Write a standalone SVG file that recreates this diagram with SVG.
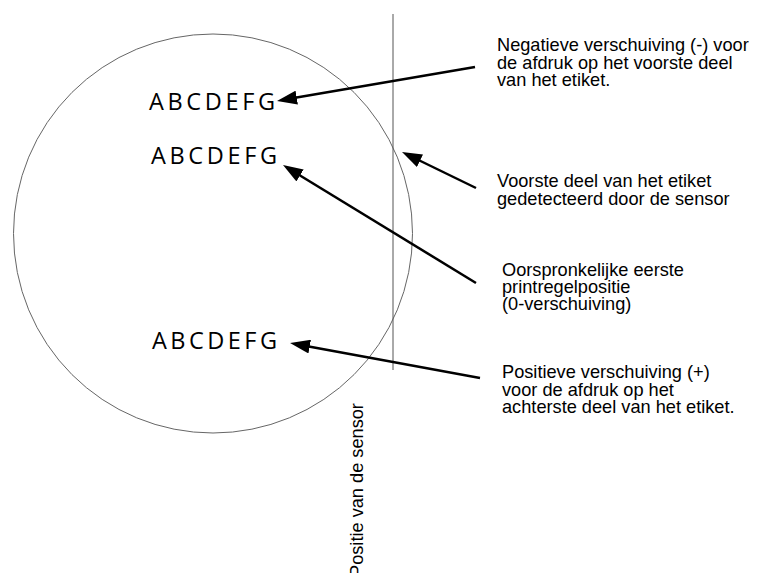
<svg xmlns="http://www.w3.org/2000/svg" width="758" height="573" viewBox="0 0 758 573">
<style>
.lbl{font-family:"Liberation Sans",Arial,sans-serif;font-size:18.2px;fill:#000}
.abc{font-family:"Open Sans","Noto Sans",sans-serif;font-size:23.5px;fill:#000}
.conn{stroke:#000;stroke-width:2.5;fill:none;marker-end:url(#ah)}
</style>
<defs>
<marker id="ah" viewBox="0 0 20 14" refX="12" refY="7" markerWidth="20" markerHeight="14" markerUnits="userSpaceOnUse" orient="auto">
<path d="M0,0 L20,7 L0,14 z" fill="#000"/>
</marker>
</defs>
<rect width="758" height="573" fill="#fff"/>
<g id="label-circle">
<circle cx="213" cy="233.5" r="199.5" fill="none" stroke="#666" stroke-width="1"/>
</g>
<g id="sensor-line">
<line x1="393" y1="14" x2="393" y2="370" stroke="#555" stroke-width="1"/>
<text class="lbl" transform="translate(363,577) rotate(-90)">Positie van de sensor</text>
</g>
<g id="print-neg">
<text class="abc" x="149" y="109.5" textLength="126" lengthAdjust="spacing">ABCDEFG</text>
</g>
<g id="print-zero">
<text class="abc" x="151" y="164" textLength="126" lengthAdjust="spacing">ABCDEFG</text>
</g>
<g id="print-pos">
<text class="abc" x="152" y="348.5" textLength="125" lengthAdjust="spacing">ABCDEFG</text>
</g>
<g id="note-neg">
<text class="lbl" x="497" y="51">Negatieve verschuiving (-) voor</text>
<text class="lbl" x="497" y="68.5">de afdruk op het voorste deel</text>
<text class="lbl" x="497" y="86">van het etiket.</text>
</g>
<g id="note-front">
<text class="lbl" x="497" y="187">Voorste deel van het etiket</text>
<text class="lbl" x="497" y="205">gedetecteerd door de sensor</text>
</g>
<g id="note-orig">
<text class="lbl" x="502" y="276">Oorspronkelijke eerste</text>
<text class="lbl" x="502" y="293">printregelpositie</text>
<text class="lbl" x="502" y="310">(0-verschuiving)</text>
</g>
<g id="note-pos">
<text class="lbl" x="502" y="378">Positieve verschuiving (+)</text>
<text class="lbl" x="502" y="395.5">voor de afdruk op het</text>
<text class="lbl" x="502" y="413">achterste deel van het etiket.</text>
</g>
<g id="connectors">
<line class="conn" x1="475" y1="67" x2="284.9" y2="99.6"/>
<line class="conn" x1="476" y1="188" x2="409.2" y2="155.5"/>
<line class="conn" x1="476" y1="283" x2="289.8" y2="169.2"/>
<line class="conn" x1="480" y1="378" x2="297.9" y2="344.4"/>
</g>
</svg>
